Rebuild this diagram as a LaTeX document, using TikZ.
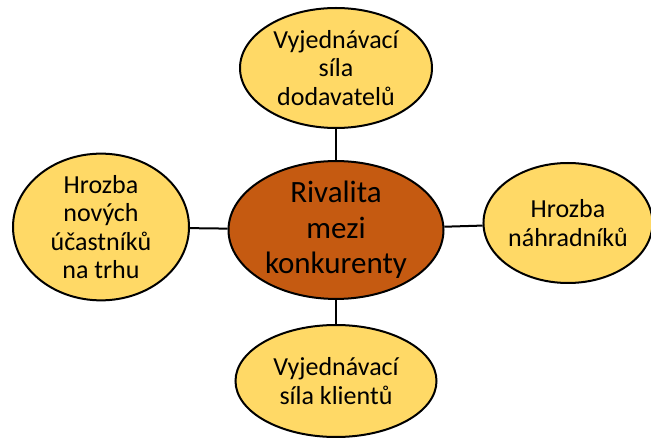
\documentclass[tikz,border=0pt]{standalone}
\usepackage{fontspec}
\setmainfont{Carlito}
\usetikzlibrary{shapes.geometric}
\definecolor{rivalfill}{HTML}{C55A11}
\definecolor{forcefill}{HTML}{FFD966}
\tikzset{
  force/.style={ellipse, draw=black, line width=2pt, fill=forcefill,
    inner sep=0pt, align=center, font=\fontsize{26}{28.5}\selectfont},
  rival/.style={force, fill=rivalfill, font=\fontsize{31}{35.5}\selectfont},
  link/.style={draw=black, line width=2pt}
}
\newcommand{\forcenode}[5]{
  \node [force, minimum width=#3, minimum height=#4] (#1) at #2 {#5};
}

\begin{document}
\begin{tikzpicture}[x=1pt, y=-1pt]
\useasboundingbox (0,0) rectangle (651,438);
% centre
\node [rival, minimum width=215, minimum height=134] (rivalry) at (336,230)
  {Rivalita\\mezi\\konkurenty};
% the four forces
\forcenode{suppliers}{(336,68)}{192}{120}{Vyjednávací\\síla\\dodavatelů}
\forcenode{entrants}{(101,227)}{176}{121}{Hrozba\\nových\\účastníků\\na trhu}
\forcenode{substitutes}{(568,223)}{162}{120}{Hrozba\\náhradníků}
\forcenode{buyers}{(336,381)}{201}{112}{Vyjednávací\\síla klientů}
% links
\draw [link] (rivalry) -- (suppliers);
\draw [link] (rivalry) -- (entrants);
\draw [link] (rivalry) -- (substitutes);
\draw [link] (rivalry) -- (buyers);
\end{tikzpicture}
\end{document}
